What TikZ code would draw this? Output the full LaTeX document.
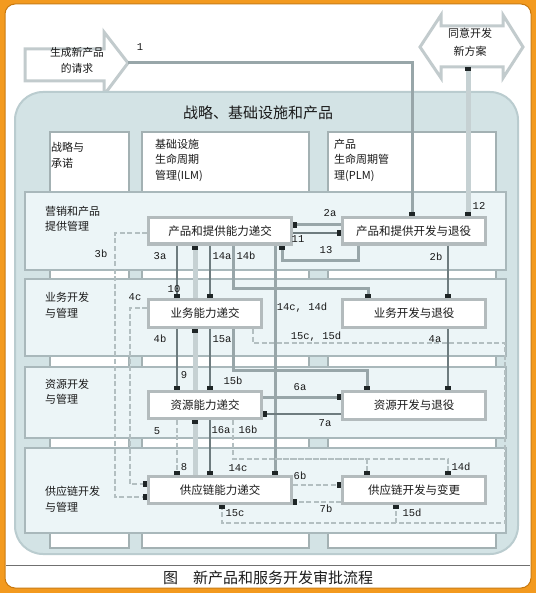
\documentclass[tikz,border=0pt]{standalone}
\usepackage{fontspec}
\setmainfont{Liberation Serif}
\newfontfamily\cjk{Noto Sans CJK SC}
\newfontfamily\numf{Liberation Mono}
\usetikzlibrary{arrows.meta,calc}
\definecolor{orangec}{HTML}{F39A1F}
\definecolor{orangedk}{HTML}{C8780E}
\definecolor{panelc}{HTML}{D3E3E5}
\definecolor{panelbd}{HTML}{BACCCF}
\definecolor{rowc}{HTML}{ECF5F7}
\definecolor{rowbd}{HTML}{A9B8BB}
\definecolor{colbd}{HTML}{A3B1B3}
\definecolor{boxbd}{HTML}{B3BBBD}
\definecolor{dkline}{HTML}{6E7C7F}
\definecolor{mdline}{HTML}{98A6A9}
\definecolor{ltline}{HTML}{C6D1D3}
\definecolor{dsline}{HTML}{B3BFC1}
\definecolor{markc}{HTML}{1E2526}
\definecolor{txtc}{HTML}{1A1A1A}
\definecolor{arrbd}{HTML}{C2CBCD}
\definecolor{sepc}{HTML}{707070}
\tikzset{
  procbox/.style={draw=boxbd,line width=3pt,fill=white,inner sep=0pt,text=txtc,font=\cjk\fontsize{11.5}{13}\selectfont},
  rowlbl/.style={anchor=west,inner sep=0pt,align=left,text=txtc,font=\cjk\fontsize{11}{15.5}\selectfont},
  numlbl/.style={inner sep=0pt,text=txtc,font=\numf\fontsize{10.5}{12}\selectfont},
  dkln/.style={draw=dkline,line width=2.6pt},
  mdln/.style={draw=mdline,line width=3pt},
  ltln/.style={draw=ltline,line width=5pt},
  dsln/.style={draw=dsline,line width=2.6pt,dash pattern=on 5pt off 2.5pt},
  sqend/.style={-{Square[length=4pt,width=6pt,color=markc]}},
  sqstart/.style={{Square[length=4pt,width=6pt,color=markc]}-},
  sqboth/.style={{Square[length=4pt,width=6pt,color=markc]}-{Square[length=4pt,width=6pt,color=markc]}},
  colbox/.style={draw=colbd,line width=2.5pt,fill=white},
  rowbox/.style={draw=rowbd,line width=2.5pt,fill=rowc},
  blockarrow/.style={draw=arrbd,line width=3pt,fill=white,line join=miter},
}
\begin{document}
\begin{tikzpicture}[x=1pt,y=-1pt]
\useasboundingbox (0,0) rectangle (536,593);
% frame
\fill[orangec] (0,0) rectangle (536,593);
\draw[orangedk,line width=1pt,fill=white,rounded corners=10pt] (5,4) rectangle (531,588);
\draw[sepc,line width=1pt] (6,565) -- (530,565);
\node[font=\cjk\fontsize{15}{18}\selectfont,text=txtc,inner sep=0pt] (cap) at (268,578) {图\hspace{1em}新产品和服务开发审批流程};

% helper coordinates
\foreach \v in {115,130,177,195,210,222,233,253,275,282,358,367,368,396,412,448,468,505}
  {\coordinate (x\v) at (\v,0);}
\foreach \v in {225,233,260,288,308,343,370,397,414,459,484,485,497,502,523}
  {\coordinate (y\v) at (0,\v);}

% request arrow
\draw[blockarrow] (25,49) -- (104,49) -- (104,32) -- (128,63) -- (104,95) -- (104,81) -- (25,81) -- cycle;
\node[font=\cjk\fontsize{10.8}{16}\selectfont,align=center,text=txtc,inner sep=0pt] (req) at (77,60) {生成新产品\\的请求};
\coordinate (reqtip) at (128,63);

% approval double arrow
\draw[blockarrow] (420,47) -- (441,15) -- (441,26) -- (503,26) -- (503,15) -- (523,47) -- (503,78) -- (503,67) -- (441,67) -- (441,78) -- cycle;
\node[font=\cjk\fontsize{11}{18}\selectfont,align=center,text=txtc,inner sep=0pt] (agree) at (470,42) {同意开发\\新方案};
\coordinate (agreebot) at (468,67);

% panel
\draw[panelbd,line width=2pt,fill=panelc,rounded corners=28pt] (15,92) rectangle (518,554);
\node[font=\cjk\fontsize{15}{18}\selectfont,text=txtc,inner sep=0pt] (title) at (258,113) {战略、基础设施和产品};

% columns
\draw[colbox] (50,132) rectangle (129,548);
\draw[colbox] (142,132) rectangle (309,548);
\draw[colbox] (328,132) rectangle (496,548);
\node[rowlbl] (c1) at (51,155.5) {战略与\\承诺};
\node[rowlbl] (c2) at (155,160) {基础设施\\生命周期\\管理(ILM)};
\node[rowlbl] (c3) at (334,160) {产品\\生命周期管\\理(PLM)};

% rows
\draw[rowbox] (25,192) rectangle (506,270);
\draw[rowbox] (25,279) rectangle (506,356);
\draw[rowbox] (25,367) rectangle (506,438);
\draw[rowbox] (25,448) rectangle (506,533);
\node[rowlbl] (r1) at (45,219) {营销和产品\\提供管理};
\node[rowlbl] (r2) at (45,305.5) {业务开发\\与管理};
\node[rowlbl] (r3) at (45,392) {资源开发\\与管理};
\node[rowlbl] (r4) at (45,499.5) {供应链开发\\与管理};

% process boxes
\node[procbox,minimum width=143pt,minimum height=26pt] (A) at (220,231) {产品和提供能力递交};
\node[procbox,minimum width=143pt,minimum height=26pt] (B) at (413.5,231) {产品和提供开发与退役};
\node[procbox,minimum width=113pt,minimum height=28pt] (C) at (205,313.5) {业务能力递交};
\node[procbox,minimum width=143pt,minimum height=28pt] (D) at (414,313.5) {业务开发与退役};
\node[procbox,minimum width=113pt,minimum height=27pt] (E) at (205,405) {资源能力递交};
\node[procbox,minimum width=143pt,minimum height=28pt] (F) at (414,405.5) {资源开发与退役};
\node[procbox,minimum width=143pt,minimum height=27pt] (G) at (220,490) {供应链能力递交};
\node[procbox,minimum width=143pt,minimum height=27pt] (H) at (414,490) {供应链开发与变更};

% connectors
\draw[mdln,sqend] (reqtip) -| (B.north -| x412);
\draw[ltln,sqboth] (agreebot) -- (B.north -| x468);
\draw[mdln,sqend] (B.west |- y225) -- (A.east |- y225);
\draw[dkln,sqend] (A.east |- y233) -- (B.west |- y233);
\draw[mdln,sqstart] (A.south -| x282) |- (x358 |- y260) -- (B.south -| x358);
\draw[dkln,sqend] (B.south -| x448) -- (D.north -| x448);
\draw[dkln,sqend] (D.south -| x448) -- (F.north -| x448);
\draw[dkln,sqend] (A.south -| x177) -- (C.north -| x177);
\draw[ltln,sqend] (C.north -| x195) -- (A.south -| x195);
\draw[dkln,sqend] (A.south -| x210) -- (C.north -| x210);
\draw[mdln,sqend] (A.south -| x233) |- (x368 |- y288) -- (D.north -| x368);
\draw[mdln,sqend] (A.south -| x275) -- (G.north -| x275);
\draw[dkln,sqend] (C.south -| x177) -- (E.north -| x177);
\draw[ltln,sqend] (E.north -| x195) -- (C.south -| x195);
\draw[dkln,sqend] (C.south -| x210) -- (E.north -| x210);
\draw[mdln,sqend] (C.south -| x233) |- (x367 |- y370) -- (F.north -| x367);
\draw[dsln,sqend] (C.south -| x253) |- (x505 |- y343) |- (x222 |- y523) -- (G.south -| x222);
\draw[dsln,sqend] (x396 |- y523) -- (H.south -| x396);
\draw[dsln,sqend] (E.south -| x177) -- (G.north -| x177);
\draw[ltln,sqend] (G.north -| x195) -- (E.south -| x195);
\draw[dkln,sqend] (E.south -| x210) -- (G.north -| x210);
\draw[dsln,sqend] (E.south -| x233) |- (x367 |- y459) -- (H.north -| x367);
\draw[dsln,sqend] (x275 |- y459) -| (H.north -| x448);
\draw[mdln,sqend] (E.east |- y397) -- (F.west |- y397);
\draw[dkln,sqend] (F.west |- y414) -- (E.east |- y414);
\draw[dsln,sqend] (G.east |- y485) -- (H.west |- y485);
\draw[dsln,sqend] (H.west |- y502) -- (G.east |- y502);
\draw[dsln,sqend] (A.west |- y233) -| (x115 |- y497) -- (G.west |- y497);
\draw[dsln,sqend] (C.west |- y308) -| (x130 |- y484) -- (G.west |- y484);

% connector labels
\node[numlbl] (l1) at (140,47) {1};
\node[numlbl] (l12) at (479,206) {12};
\node[numlbl] (l2a) at (330,213) {2a};
\node[numlbl] (l11) at (298,239) {11};
\node[numlbl] (l13) at (326,250) {13};
\node[numlbl] (l3b) at (101,254) {3b};
\node[numlbl] (l3a) at (160,256) {3a};
\node[numlbl] (l14a) at (222,256) {14a};
\node[numlbl] (l14b) at (246,256) {14b};
\node[numlbl] (l2b) at (436,257) {2b};
\node[numlbl] (l10) at (174,289) {10};
\node[numlbl] (l4c) at (135,297) {4c};
\node[numlbl] (l14cd) at (302,308) {14c, 14d};
\node[numlbl] (l4b) at (160,339) {4b};
\node[numlbl] (l15a) at (222,339) {15a};
\node[numlbl] (l15cd) at (316,337) {15c, 15d};
\node[numlbl] (l4a) at (435,339) {4a};
\node[numlbl] (l9) at (184,375) {9};
\node[numlbl] (l15b) at (233,381) {15b};
\node[numlbl] (l6a) at (300,387) {6a};
\node[numlbl] (l7a) at (325,423) {7a};
\node[numlbl] (l5) at (157,431) {5};
\node[numlbl] (l16a) at (221,430) {16a};
\node[numlbl] (l16b) at (248,430) {16b};
\node[numlbl] (l8) at (184,467) {8};
\node[numlbl] (l14c) at (238,468) {14c};
\node[numlbl] (l6b) at (300,476) {6b};
\node[numlbl] (l14d) at (461,467) {14d};
\node[numlbl] (l7b) at (326,509) {7b};
\node[numlbl] (l15c) at (235,513) {15c};
\node[numlbl] (l15d) at (412,513) {15d};
\end{tikzpicture}
\end{document}
